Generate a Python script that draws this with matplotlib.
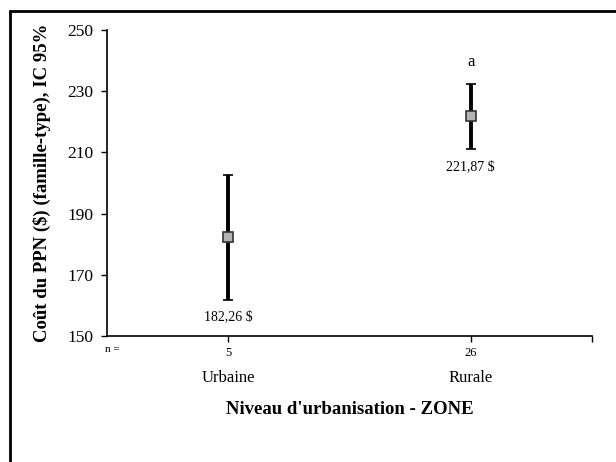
import numpy as np
import matplotlib
matplotlib.use("Agg")
import matplotlib.pyplot as plt
from matplotlib.patches import Rectangle

zones = ["Urbaine", "Rurale"]
n_counts = ["5", "26"]
means = [182.26, 221.87]
ci_low = [161.8, 211.0]
ci_high = [202.5, 232.5]
mean_labels = ["182,26 $", "221,87 $"]
letters = ["", "a"]

plt.rcParams['font.family'] = ['Liberation Serif', 'DejaVu Serif']

fig = plt.figure(figsize=(6.16, 4.62), dpi=100)
ax = fig.add_axes([0.174, 0.273, 0.787, 0.662])

x = np.arange(1, len(zones) + 1)
means_a = np.array(means)
yerr = [means_a - np.array(ci_low), np.array(ci_high) - means_a]
ax.errorbar(x, means, yerr=yerr, fmt='s', color='black', ecolor='black',
            elinewidth=2.8, capsize=3.5, capthick=2.8, markersize=7,
            markerfacecolor='#b3b3b3', markeredgecolor='#333333', markeredgewidth=1.2)

for xi, lo, lab in zip(x, ci_low, mean_labels):
    ax.text(xi, lo - 3.5, lab, ha='center', va='top', fontsize=10)
for xi, hi, let in zip(x, ci_high, letters):
    if let:
        ax.text(xi, hi + 4.5, let, ha='center', va='bottom', fontsize=12)

ax.set_xlim(0.5, 2.5)
ax.set_ylim(150, 250)
ax.set_yticks([150, 170, 190, 210, 230, 250])
ax.tick_params(axis='y', labelsize=12.5, length=4, width=1, pad=6)
ax.set_xticks(list(x) + [2.5])
ax.set_xticklabels(n_counts + [""], fontsize=9)
ax.tick_params(axis='x', length=4, width=1, pad=4)
for s in ['top', 'right']:
    ax.spines[s].set_visible(False)
for s in ['left', 'bottom']:
    ax.spines[s].set_linewidth(1.2)

ax.text(-0.005, -0.045, "n =", transform=ax.transAxes, fontsize=8, ha='left', va='center')
for xi, z in zip(x, zones):
    ax.text(xi, -0.137, z, transform=ax.get_xaxis_transform(), ha='center', va='center', fontsize=12)

ax.set_xlabel("Niveau d'urbanisation - ZONE", fontsize=13.5, fontweight='bold', labelpad=30)
ax.set_ylabel("Coût du PPN ($) (famille-type), IC 95%", fontsize=13.5, fontweight='bold', labelpad=12)

fig.patches.append(Rectangle((10 / 616, -0.1), 1.2, 1.1 - 11 / 462, transform=fig.transFigure,
                             fill=False, edgecolor='black', linewidth=2))

fig.savefig("out.png", dpi=100)
